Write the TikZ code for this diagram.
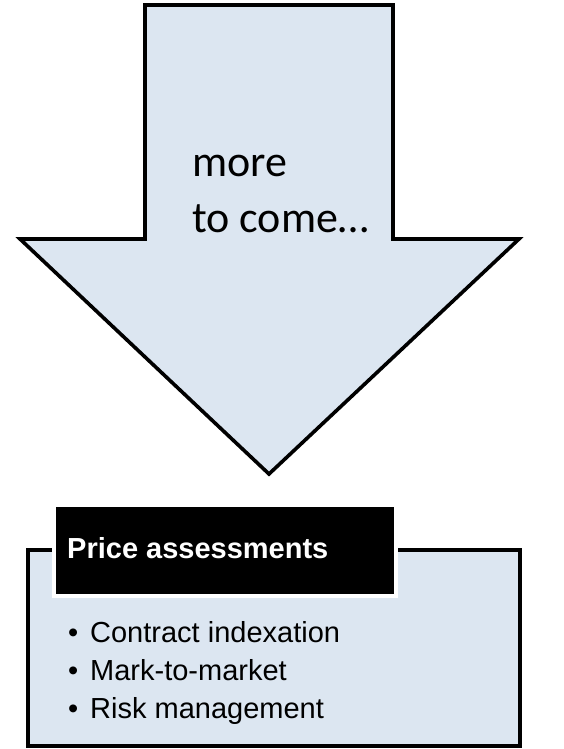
\documentclass[tikz,border=0pt]{standalone}
\usepackage{fontspec}
\setmainfont{Liberation Sans}
\newfontfamily\carlito{Carlito}
\usetikzlibrary{positioning}
\definecolor{PaleBlue}{HTML}{DCE6F1}

\begin{document}
\begin{tikzpicture}[x=1pt,y=-1pt]
		\tikzstyle{Shape}	= [draw=black, line width=3.6pt, fill=PaleBlue, line join=miter]
		\tikzstyle{Label}	= [anchor=base west, inner sep=0pt, font=\carlito\fontsize{44}{56}\selectfont]
		\tikzstyle{TitleBox}	= [rectangle, fill=black, draw=white, line width=4pt, minimum width=342pt, minimum height=91pt, inner sep=0pt]
		\tikzstyle{Title}	= [anchor=base west, inner sep=0pt, text=white, font=\bfseries\fontsize{29}{34}\selectfont]
		\tikzstyle{Item}	= [anchor=base west, inner sep=0pt, font=\fontsize{29}{38}\selectfont]

		\useasboundingbox (0,0) rectangle (563,749);

		% down arrow
		\draw [Shape] (145,5) -- (393,5) -- (393,239) -- (519,239) -- (269,474) -- (20,239) -- (145,239) -- cycle;
		\node (more) at (192,176) [Label] {more};
		\node (come) at (192,232) [Label] {to come…};

		% box with its heading
		\draw [Shape] (28,550) rectangle (520,746);
		\node (head) at (225,550.5) [TitleBox] {};
		\node (title) at (67,558) [Title] {Price assessments};

		\node (item1) at (68,642) [Item] {\makebox[22pt][l]{•}Contract indexation};
		\node (item2) at (68,680) [Item] {\makebox[22pt][l]{•}Mark-to-market};
		\node (item3) at (68,718) [Item] {\makebox[22pt][l]{•}Risk management};
	\end{tikzpicture}
\end{document}
